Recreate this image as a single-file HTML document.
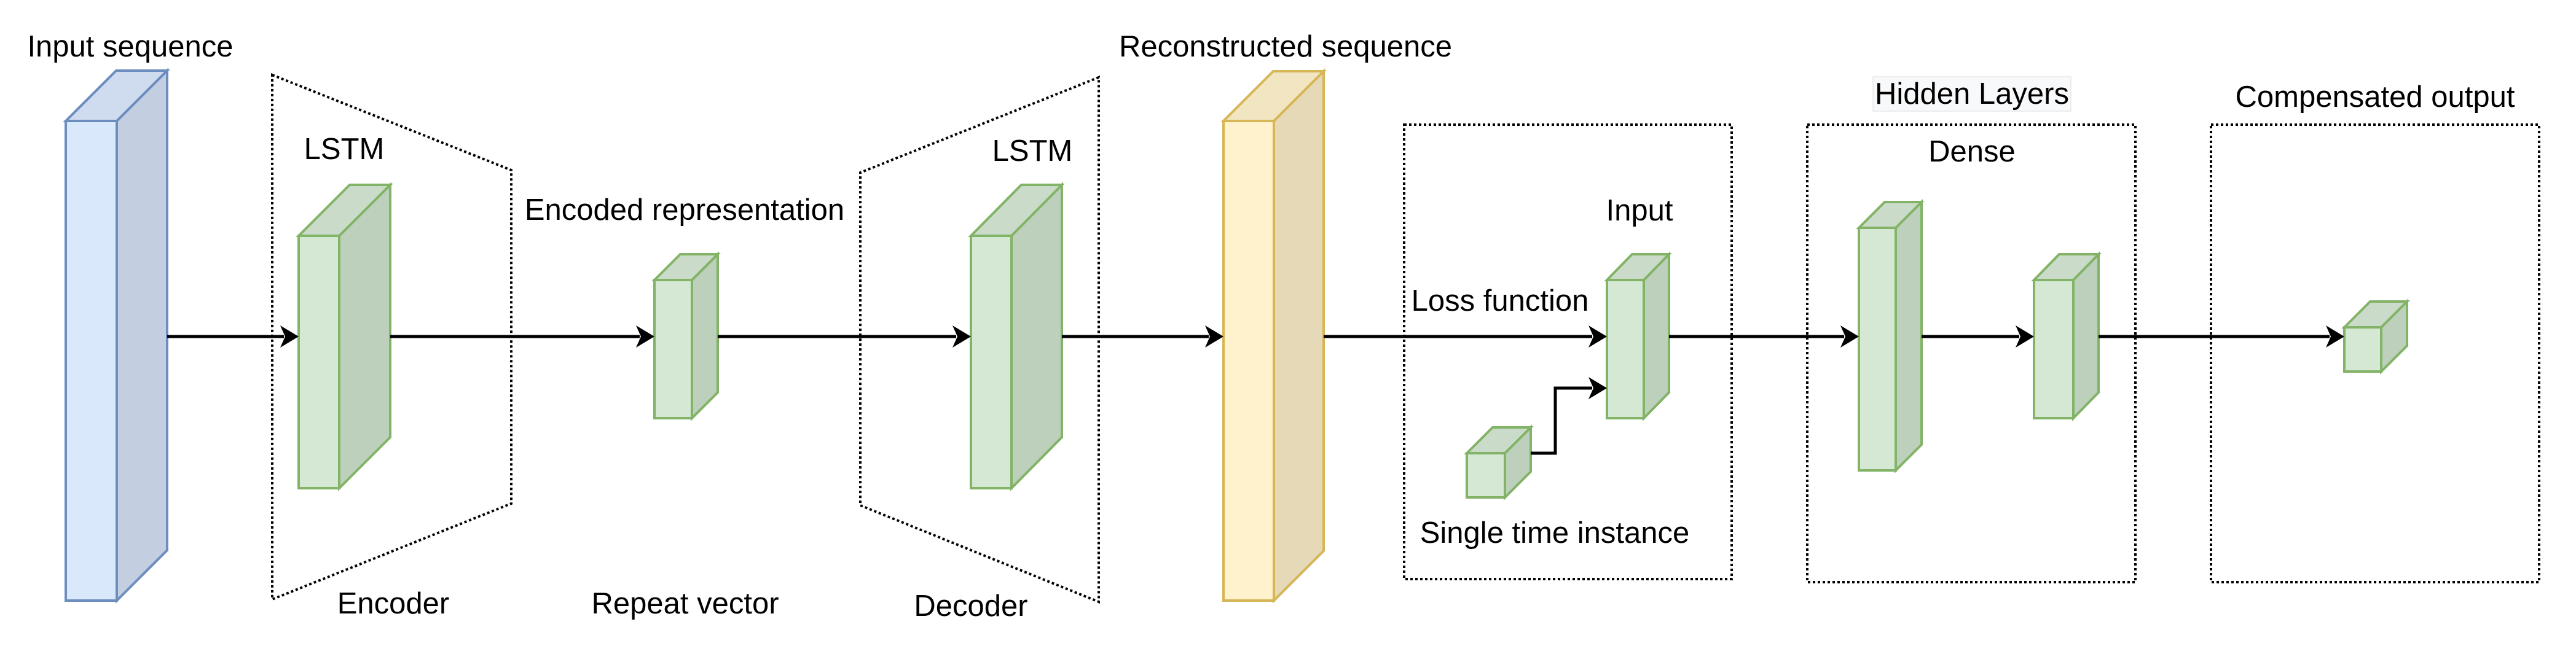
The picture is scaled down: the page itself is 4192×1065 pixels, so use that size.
<!DOCTYPE html>
<html><head><meta charset="utf-8"><style>
html,body{margin:0;padding:0;background:#fff;}
svg{display:block;}
text{font-family:"Liberation Sans",Arial,sans-serif;font-size:49px;fill:#000;}
</style></head><body>
<svg width="4192" height="1065" viewBox="0 0 4192 1065" xmlns="http://www.w3.org/2000/svg">
<g fill="none" stroke="#000" stroke-width="4" stroke-dasharray="4 4">
<polygon points="443,122 832,277 832,820 443,976"/>
<polygon points="1788,126 1400,281 1400,823 1788,980"/>
<rect x="2285" y="203" width="533" height="740"/>
<rect x="2941" y="203" width="534" height="745"/>
<rect x="3598" y="203" width="534" height="745"/>
</g>
<g stroke-width="4" stroke-linejoin="miter">
<g stroke="#6c8ebf"><rect x="107" y="197" width="83" height="781" fill="#dae8fc"/>
<polygon points="190,197 272,115 272,896 190,978" fill="#c3cfe0"/>
<polygon points="107,197 189,115 272,115 190,197" fill="#cfdbee"/></g>
<g stroke="#d6b656"><rect x="1991" y="197" width="82" height="781" fill="#fff2cc"/>
<polygon points="2073,197 2154,116 2154,897 2073,978" fill="#e6d9b8"/>
<polygon points="1991,197 2072,116 2154,116 2073,197" fill="#f2e6c2"/></g>
<g stroke="#82b366">
<rect x="486" y="384" width="66" height="411" fill="#d5e8d4"/>
<polygon points="552,384 635,301 635,712 552,795" fill="#bdd0bc"/>
<polygon points="486,384 569,301 635,301 552,384" fill="#cadcc9"/>
<rect x="1580" y="384" width="66" height="411" fill="#d5e8d4"/>
<polygon points="1646,384 1728,301 1728,712 1646,795" fill="#bdd0bc"/>
<polygon points="1580,384 1662,301 1728,301 1646,384" fill="#cadcc9"/>
<rect x="1065" y="456" width="61" height="225" fill="#d5e8d4"/>
<polygon points="1126,456 1168,414 1168,639 1126,681" fill="#bdd0bc"/>
<polygon points="1065,456 1107,414 1168,414 1126,456" fill="#cadcc9"/>
<rect x="2615" y="456" width="60" height="225" fill="#d5e8d4"/>
<polygon points="2675,456 2716,414 2716,639 2675,681" fill="#bdd0bc"/>
<polygon points="2615,456 2656,414 2716,414 2675,456" fill="#cadcc9"/>
<rect x="2387" y="738" width="62" height="72" fill="#d5e8d4"/>
<polygon points="2449,738 2491,696 2491,768 2449,810" fill="#bdd0bc"/>
<polygon points="2387,738 2429,696 2491,696 2449,738" fill="#cadcc9"/>
<rect x="3025" y="371" width="60" height="395" fill="#d5e8d4"/>
<polygon points="3085,371 3127,329 3127,724 3085,766" fill="#bdd0bc"/>
<polygon points="3025,371 3067,329 3127,329 3085,371" fill="#cadcc9"/>
<rect x="3310" y="456" width="64" height="225" fill="#d5e8d4"/>
<polygon points="3374,456 3415,414 3415,639 3374,681" fill="#bdd0bc"/>
<polygon points="3310,456 3351,414 3415,414 3374,456" fill="#cadcc9"/>
<rect x="3815" y="533" width="60" height="72" fill="#d5e8d4"/>
<polygon points="3875,533 3917,491 3917,563 3875,605" fill="#bdd0bc"/>
<polygon points="3815,533 3857,491 3917,491 3875,533" fill="#cadcc9"/>
</g></g>
<g stroke="#000" stroke-width="5" fill="none">
<line x1="272" y1="548" x2="462" y2="548"/>
<line x1="635" y1="548" x2="1041" y2="548"/>
<line x1="1168" y1="548" x2="1556" y2="548"/>
<line x1="1728" y1="548" x2="1967" y2="548"/>
<line x1="2154" y1="548" x2="2591" y2="548"/>
<line x1="2716" y1="548" x2="3001" y2="548"/>
<line x1="3127" y1="548" x2="3286" y2="548"/>
<line x1="3415" y1="548" x2="3791" y2="548"/>
<polyline points="2491,738 2531,738 2531,632 2591,632"/>
</g>
<g fill="#000">
<polygon points="486,548 456,530 464,548 456,566"/>
<polygon points="1065,548 1035,530 1043,548 1035,566"/>
<polygon points="1580,548 1550,530 1558,548 1550,566"/>
<polygon points="1991,548 1961,530 1969,548 1961,566"/>
<polygon points="2615,548 2585,530 2593,548 2585,566"/>
<polygon points="2615,632 2585,614 2593,632 2585,650"/>
<polygon points="3025,548 2995,530 3003,548 2995,566"/>
<polygon points="3310,548 3280,530 3288,548 3280,566"/>
<polygon points="3815,548 3785,530 3793,548 3785,566"/>
</g>
<rect x="3048" y="125" width="322" height="56" fill="#f8f9fa" stroke="#ddd" stroke-width="1"/>
<g text-anchor="middle" dominant-baseline="central">
<text x="212" y="76">Input sequence</text>
<text x="560" y="243">LSTM</text>
<text x="1114" y="342">Encoded representation</text>
<text x="1680" y="246">LSTM</text>
<text x="640" y="983">Encoder</text>
<text x="1115" y="983">Repeat vector</text>
<text x="1580" y="987">Decoder</text>
<text x="2092" y="76">Reconstructed sequence</text>
<text x="2668" y="343">Input</text>
<text x="2441" y="490">Loss function</text>
<text x="2530" y="868">Single time instance</text>
<text x="3209" y="153">Hidden Layers</text>
<text x="3209" y="247">Dense</text>
<text x="3865" y="158">Compensated output</text>
</g>
</svg>
</body></html>
